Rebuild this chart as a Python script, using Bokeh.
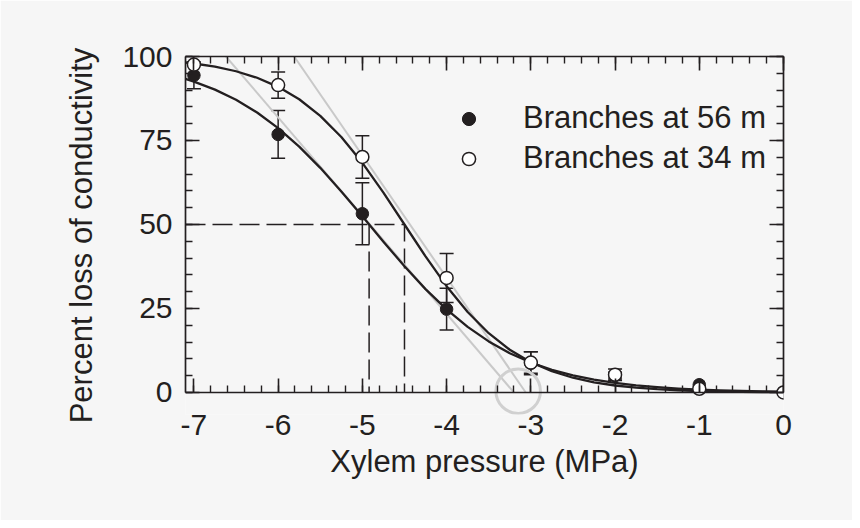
from bokeh.plotting import figure
from bokeh.models import (Range1d, LinearAxis, SingleIntervalTicker, ColumnDataSource,
                          Whisker, TeeHead, Legend, LegendItem)
from bokeh.embed import file_html
from bokeh.resources import INLINE

# ---------------- data ----------------
pressure = [-7, -6, -5, -4, -3, -2, -1, 0]
plc_56m = [94.4, 76.8, 53.2, 24.8, 8.7, 5.0, 2.3, 0.0]
err_56m = [4.0, 7.1, 9.2, 6.2, 3.4, 1.0, 0.0, 0.0]
plc_34m = [97.6, 91.5, 70.1, 34.1, 8.9, 5.3, 1.1, 0.0]
err_34m = [0.0, 3.9, 6.3, 7.3, 3.2, 1.7, 0.0, 0.0]

curve_x = [-7.1, -7.0, -6.75, -6.5, -6.25, -6.0, -5.75, -5.5, -5.25, -5.0,
           -4.75, -4.5, -4.25, -4.0, -3.75, -3.5, -3.25, -3.0, -2.75, -2.5,
           -2.25, -2.0, -1.75, -1.5, -1.25, -1.0, -0.75, -0.5, -0.25, 0.0]
curve_56m = [93.33, 92.53, 90.15, 87.12, 83.33, 78.70, 73.19, 66.86, 59.85, 52.42,
             44.88, 37.56, 30.77, 24.73, 19.53, 15.21, 11.70, 8.92, 6.75, 5.08,
             3.80, 2.84, 2.11, 1.57, 1.16, 0.86, 0.64, 0.47, 0.35, 0.26]
curve_34m = [98.21, 97.92, 96.97, 95.61, 93.67, 90.97, 87.27, 82.34, 76.04, 68.35,
             59.51, 50.00, 40.49, 31.65, 23.96, 17.65, 12.73, 9.03, 6.33, 4.39,
             3.03, 2.08, 1.43, 0.98, 0.67, 0.45, 0.31, 0.21, 0.14, 0.10]

p50_56m = -4.92
p50_34m = -4.50
plc_half = 50

tangent_y = [100, 0]
tangent_56m_x = [-6.62, -3.20]
tangent_34m_x = [-5.81, -3.06]

highlight_x = [-3.15]
highlight_y = [0.4]

x_ticks = [-7, -6, -5, -4, -3, -2, -1, 0]
x_tick_labels = ["-7", "-6", "-5", "-4", "-3", "-2", "-1", "0"]
y_ticks = [0, 25, 50, 75, 100]
y_tick_labels = ["0", "25", "50", "75", "100"]

series_labels = ["Branches at 56 m", "Branches at 34 m"]

# ---------------- style ----------------
INK = "#231f20"
BG = "#f6f6f6"
GRAY = "#c9c9c9"
FONT = "Liberation Sans"

X0, X1 = -7.1, 0.0
Y0, Y1 = -6.55, 100.0

p = figure(width=852, height=520, output_backend="svg", toolbar_location=None,
           x_range=Range1d(X0, X1), y_range=Range1d(Y0, Y1),
           x_axis_type=None, y_axis_type=None,
           min_border_left=185, min_border_right=69, min_border_top=56, min_border_bottom=106,
           background_fill_color=BG, border_fill_color=BG, outline_line_color=None)


def style_axis(ax, show_labels):
    ax.axis_line_color = INK
    ax.axis_line_width = 1.7
    ax.major_tick_line_color = INK
    ax.major_tick_line_width = 1.6
    ax.minor_tick_line_color = INK
    ax.minor_tick_line_width = 1.4
    ax.major_tick_in = 14
    ax.major_tick_out = 0
    ax.minor_tick_in = 7
    ax.minor_tick_out = 0
    ax.major_label_text_font = FONT
    ax.major_label_text_color = INK
    ax.axis_label_text_font = FONT
    ax.axis_label_text_color = INK
    ax.axis_label_text_font_style = "normal"
    ax.axis_label_text_font_size = "31px"
    if show_labels:
        ax.major_label_text_font_size = "30px"
    else:
        ax.major_label_text_color = None
        ax.major_label_text_font_size = "1px"
        ax.major_label_standoff = 0


x_ticker = SingleIntervalTicker(interval=1, num_minor_ticks=5)
y_ticker = SingleIntervalTicker(interval=25, num_minor_ticks=5)

# x axis line + upward ticks, drawn at PLC = 0
x_zero = LinearAxis(ticker=x_ticker, fixed_location=0)
style_axis(x_zero, False)
x_zero.major_tick_in = 0
x_zero.major_tick_out = 14
x_zero.minor_tick_in = 0
x_zero.minor_tick_out = 7
p.add_layout(x_zero, "above")

# x tick labels and title under the frame
x_lab = LinearAxis(ticker=x_ticker,
                   major_label_overrides={t: s for t, s in zip(x_ticks, x_tick_labels)},
                   axis_label="Xylem pressure (MPa)")
style_axis(x_lab, True)
x_lab.axis_line_color = None
x_lab.major_tick_line_color = None
x_lab.minor_tick_line_color = None
x_lab.major_tick_in = 0
x_lab.minor_tick_in = 0
x_lab.major_label_standoff = 0
x_lab.axis_label_standoff = 6
p.add_layout(x_lab, "below")

# top border with inward ticks
x_top = LinearAxis(ticker=x_ticker)
style_axis(x_top, False)
p.add_layout(x_top, "above")

yl = LinearAxis(ticker=y_ticker,
                major_label_overrides={t: s for t, s in zip(y_ticks, y_tick_labels)},
                axis_label="Percent loss of conductivity", bounds=(0, 100))
style_axis(yl, True)
yl.major_label_standoff = 13
yl.axis_label_standoff = 20
p.add_layout(yl, "left")

yr = LinearAxis(ticker=y_ticker, bounds=(0, 100))
style_axis(yr, False)
p.add_layout(yr, "right")

# ---------------- error bars ----------------
for vals, errs in ((plc_56m, err_56m), (plc_34m, err_34m)):
    xs = [x for x, e in zip(pressure, errs) if e > 0]
    up = [v + e for v, e in zip(vals, errs) if e > 0]
    lo = [v - e for v, e in zip(vals, errs) if e > 0]
    src = ColumnDataSource(dict(x=xs, upper=up, lower=lo))
    w = Whisker(base="x", upper="upper", lower="lower", source=src,
                line_color=INK, line_width=1.5, level="underlay",
                upper_head=TeeHead(size=14, line_color=INK, line_width=1.5),
                lower_head=TeeHead(size=14, line_color=INK, line_width=1.5))
    p.add_layout(w)

# ---------------- reference lines ----------------
p.line([X0, p50_34m, p50_34m], [plc_half, plc_half, 0], line_color=INK,
       line_width=1.5, line_dash="20 7")
p.line([p50_56m, p50_56m], [plc_half, 0], line_color=INK, line_width=1.5, line_dash="20 7")

p.line(tangent_56m_x, tangent_y, line_color=GRAY, line_width=2)
p.line(tangent_34m_x, tangent_y, line_color=GRAY, line_width=2)

# ---------------- fitted curves ----------------
p.line(curve_x, curve_56m, line_color=INK, line_width=2.3, line_join="round")
p.line(curve_x, curve_34m, line_color=INK, line_width=2.3, line_join="round")

# ---------------- points ----------------
r56 = p.scatter(pressure, plc_56m, size=12.5, fill_color=INK, line_color=INK, line_width=1)
r34 = p.scatter(pressure, plc_34m, size=13, fill_color="white", line_color=INK, line_width=1.5)

# highlight circle
p.scatter(highlight_x, highlight_y, size=44.5, fill_color=None, line_color="#d0d0d0", line_width=3)

legend = Legend(items=[LegendItem(label=series_labels[0], renderers=[r56]),
                       LegendItem(label=series_labels[1], renderers=[r34])],
                location=(267, 238), glyph_width=33, glyph_height=33,
                label_standoff=38, spacing=4, padding=0, margin=0,
                label_text_font=FONT, label_text_font_size="31px", label_text_color=INK,
                background_fill_alpha=0, border_line_alpha=0)
p.add_layout(legend)

open("out.html", "w").write(file_html(p, INLINE))
